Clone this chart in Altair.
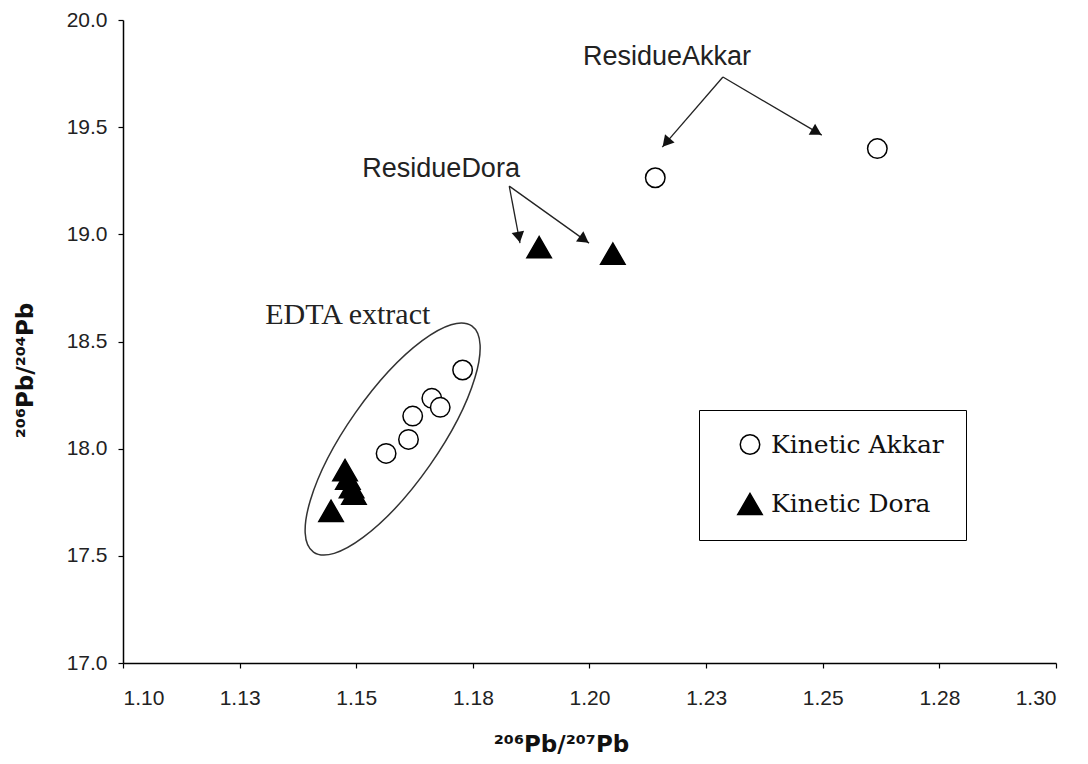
import math
import altair as alt
import pandas as pd

# ---------------- data ----------------
akkar_x = [1.1728, 1.1662, 1.1680, 1.1621, 1.1612, 1.1564, 1.2141, 1.2617]
akkar_y = [18.367, 18.235, 18.193, 18.152, 18.043, 17.978, 19.264, 19.400]
dora_x = [1.1476, 1.1482, 1.1490, 1.1495, 1.1446, 1.1892, 1.2050]
dora_y = [17.90, 17.86, 17.82, 17.79, 17.71, 18.94, 18.91]
series_names = ["Kinetic Akkar", "Kinetic Dora"]

x_ticks = [1.10, 1.125, 1.15, 1.175, 1.20, 1.225, 1.25, 1.275, 1.30]
y_ticks = [17.0, 17.5, 18.0, 18.5, 19.0, 19.5, 20.0]

# annotation texts (data coordinates of left/baseline anchor)
sans_labels = ["ResidueAkkar", "ResidueDora"]
sans_x = [1.1986, 1.1513]
sans_y = [19.79, 19.267]
serif_labels = ["EDTA extract"]
serif_x = [1.1305]
serif_y = [18.581]

# arrows: start (under the label) and tip (near the point)
arrow_x0 = [1.2286, 1.2286, 1.1828, 1.1828]
arrow_y0 = [19.734, 19.734, 19.225, 19.225]
arrow_x1 = [1.2156, 1.2498, 1.1851, 1.1999]
arrow_y1 = [19.407, 19.463, 18.959, 18.959]

# ellipse around the EDTA extract cluster (centre in data units)
ell_x = [1.1578]
ell_y = [18.045]

# ---------------- layout ----------------
W, H = 933, 643
XD = [1.10, 1.30]
YD = [17.0, 20.0]
kx = W / (XD[1] - XD[0])
ky = H / (YD[1] - YD[0])

pts = pd.DataFrame({
    "x": akkar_x + dora_x,
    "y": akkar_y + dora_y,
    "series": [series_names[0]] * len(akkar_x) + [series_names[1]] * len(dora_x),
})

rows = []
for x0, y0, x1, y1 in zip(arrow_x0, arrow_y0, arrow_x1, arrow_y1):
    dx = (x1 - x0) * kx
    dy = -(y1 - y0) * ky  # screen, downward positive
    L = math.hypot(dx, dy)
    ux, uy = dx / L, dy / L
    ang = math.degrees(math.atan2(dx, -dy)) % 360
    hx = x1 - ux * 6 / kx
    hy = y1 + uy * 6 / ky
    rows.append({"x0": x0, "y0": y0, "x1": x1, "y1": y1, "hx": hx, "hy": hy, "ang": ang})
arrows = pd.DataFrame(rows)

xs = alt.Scale(domain=XD, nice=False, zero=False)
ys = alt.Scale(domain=YD, nice=False, zero=False)

x_axis = alt.Axis(
    values=x_ticks,
    labelExpr="format(datum.value + 0.000001, '.2f')",
    grid=False, domainColor="black", domainWidth=1.5, tickColor="black",
    tickSize=5, tickWidth=1.2, labelFont="Liberation Sans", labelFontSize=21,
    labelColor="#222", labelPadding=19,
    title="²⁰⁶Pb/²⁰⁷Pb", titleFont="DejaVu Sans", titleFontSize=23,
    titleFontWeight="bold", titleColor="#111", titleX=438, titleY=88,
    titleAlign="center", titleBaseline="alphabetic",
)
y_axis = alt.Axis(
    values=y_ticks, format=".1f",
    grid=False, domainColor="black", domainWidth=1.5, tickColor="black",
    tickSize=5, tickWidth=1.2, labelFont="Liberation Sans", labelFontSize=21,
    labelColor="#222", labelPadding=11,
    title="²⁰⁶Pb/²⁰⁴Pb", titleFont="DejaVu Sans", titleFontSize=23,
    titleFontWeight="bold", titleColor="#111", titleX=-98, titleY=350,
    titleAngle=270, titleAlign="center", titleBaseline="middle",
)

legend = alt.Legend(
    title=None, orient="none", legendX=576, legendY=390,
    strokeColor="black", fillColor="white", padding=22,
    labelFont="DejaVu Serif", labelFontSize=25, labelColor="#111", labelLimit=400,
    symbolStrokeColor="black", symbolStrokeWidth=1.5,
    symbolOffset=16, labelOffset=8, rowPadding=32,
)

points = alt.Chart(pts).mark_point(strokeWidth=1.5, opacity=1).encode(
    x=alt.X("x:Q", scale=xs, axis=x_axis),
    y=alt.Y("y:Q", scale=ys, axis=y_axis),
    shape=alt.Shape("series:N", scale=alt.Scale(domain=series_names, range=["circle", "triangle-up"]), legend=legend),
    fill=alt.Fill("series:N", scale=alt.Scale(domain=series_names, range=["white", "black"]), legend=legend),
    stroke=alt.Stroke("series:N", scale=alt.Scale(domain=series_names, range=["black", "black"]), legend=legend),
    size=alt.Size("series:N", scale=alt.Scale(domain=series_names, range=[380, 600]), legend=legend),
)

ellipse = alt.Chart(pd.DataFrame({"x": ell_x, "y": ell_y})).mark_point(
    shape="M -1 0 A 1 0.33 0 1 1 1 0 A 1 0.33 0 1 1 -1 0 Z",
    size=(2 * 138) ** 2, angle=305, filled=False, stroke="#333", strokeWidth=1.5, opacity=1,
).encode(x=alt.X("x:Q", scale=xs), y=alt.Y("y:Q", scale=ys))

arrow_lines = alt.Chart(arrows).mark_rule(color="#222", strokeWidth=1.3).encode(
    x=alt.X("x0:Q", scale=xs), y=alt.Y("y0:Q", scale=ys), x2="x1:Q", y2="y1:Q"
)
arrow_heads = alt.Chart(arrows).mark_point(shape="triangle-up", filled=True, color="#111", size=160, opacity=1).encode(
    x=alt.X("hx:Q", scale=xs), y=alt.Y("hy:Q", scale=ys), angle=alt.Angle("ang:Q", scale=None)
)

sans_text = alt.Chart(pd.DataFrame({"x": sans_x, "y": sans_y, "t": sans_labels})).mark_text(
    font="Liberation Sans", fontSize=27, color="#222", align="left", baseline="alphabetic"
).encode(x=alt.X("x:Q", scale=xs), y=alt.Y("y:Q", scale=ys), text="t:N")

serif_text = alt.Chart(pd.DataFrame({"x": serif_x, "y": serif_y, "t": serif_labels})).mark_text(
    font="Liberation Serif", fontSize=30, color="#222", align="left", baseline="alphabetic"
).encode(x=alt.X("x:Q", scale=xs), y=alt.Y("y:Q", scale=ys), text="t:N")

chart = alt.layer(ellipse, arrow_lines, arrow_heads, points, sans_text, serif_text).properties(
    width=W, height=H,
    autosize=alt.AutoSizeParams(type="none"),
    padding={"left": 115, "top": 12, "right": 20, "bottom": 100},
    background="white",
).configure_view(stroke=None)

chart.save("out.html", embed_options={"renderer": "svg", "actions": False})
